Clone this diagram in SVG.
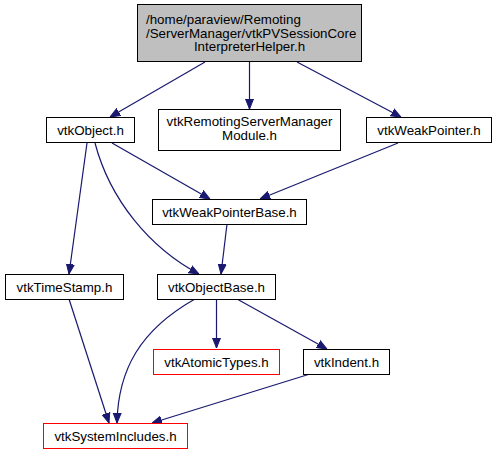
<svg xmlns="http://www.w3.org/2000/svg" width="497" height="455" viewBox="0 0 497 455">
<defs>
<style>
.n rect{fill:#fff;stroke:#000;stroke-width:1}
.n rect.red{stroke:#ff0000}
.g rect{fill:#bfbfbf}
text{font-family:"Liberation Sans",Arial,sans-serif;font-size:13.33px;fill:#000}
.c{text-anchor:middle}
#edges path{fill:none;stroke:#191970;stroke-width:1.2}
</style>
<marker id="a" viewBox="0 0 10 10" refX="10" refY="5" markerWidth="10" markerHeight="10" markerUnits="userSpaceOnUse" orient="auto">
<path d="M0,1 L10,5 L0,9 Z" fill="#191970" stroke="#191970"/>
</marker>
</defs>
<rect width="497" height="455" fill="#fff"/>
<g id="edges">
<path d="M205,62 L110,117" marker-end="url(#a)"/>
<path d="M249.5,62 L249.5,109" marker-end="url(#a)"/>
<path d="M297,62 L401,117" marker-end="url(#a)"/>
<path d="M87,143 L69,274" marker-end="url(#a)"/>
<path d="M95,143 C110,200 150,248 199,274" marker-end="url(#a)"/>
<path d="M112,143 L210,199" marker-end="url(#a)"/>
<path d="M398,143 L260,199" marker-end="url(#a)"/>
<path d="M227,224 L221,274" marker-end="url(#a)"/>
<path d="M69,299 L109,423" marker-end="url(#a)"/>
<path d="M195,299 C140,330 118,370 117,423" marker-end="url(#a)"/>
<path d="M216.5,299 L216.5,348" marker-end="url(#a)"/>
<path d="M237,299 L327,349" marker-end="url(#a)"/>
<path d="M310,374 L152,423" marker-end="url(#a)"/>
</g>
<g id="n_main" class="n g"><rect x="137.5" y="4.5" width="224" height="57"/>
<text x="146" y="24">/home/paraview/Remoting</text>
<text x="146" y="37.5">/ServerManager/vtkPVSessionCore</text>
<text class="c" x="249.5" y="51">InterpreterHelper.h</text></g>
<g id="n_vtkObject" class="n"><rect x="46.5" y="117.5" width="88" height="25"/><text class="c" x="90.5" y="134.5">vtkObject.h</text></g>
<g id="n_module" class="n"><rect x="158.5" y="109.5" width="182" height="41"/><text class="c" x="249.5" y="126">vtkRemotingServerManager</text><text class="c" x="249.5" y="140">Module.h</text></g>
<g id="n_weakptr" class="n"><rect x="366.5" y="117.5" width="125" height="25"/><text class="c" x="429" y="134.5">vtkWeakPointer.h</text></g>
<g id="n_weakptrbase" class="n"><rect x="152.5" y="199.5" width="154" height="25"/><text class="c" x="229.5" y="216.5">vtkWeakPointerBase.h</text></g>
<g id="n_timestamp" class="n"><rect x="5.5" y="274.5" width="118" height="25"/><text class="c" x="64.5" y="291.5">vtkTimeStamp.h</text></g>
<g id="n_objectbase" class="n"><rect x="157.5" y="274.5" width="118" height="25"/><text class="c" x="216.5" y="291.5">vtkObjectBase.h</text></g>
<g id="n_atomic" class="n"><rect class="red" x="153.5" y="349.5" width="126" height="25"/><text class="c" x="216.5" y="366.5">vtkAtomicTypes.h</text></g>
<g id="n_indent" class="n"><rect x="303.5" y="349.5" width="86" height="25"/><text class="c" x="346.5" y="366.5">vtkIndent.h</text></g>
<g id="n_sysinc" class="n"><rect class="red" x="43.5" y="423.5" width="144" height="25"/><text class="c" x="115.5" y="440.5">vtkSystemIncludes.h</text></g>
</svg>
